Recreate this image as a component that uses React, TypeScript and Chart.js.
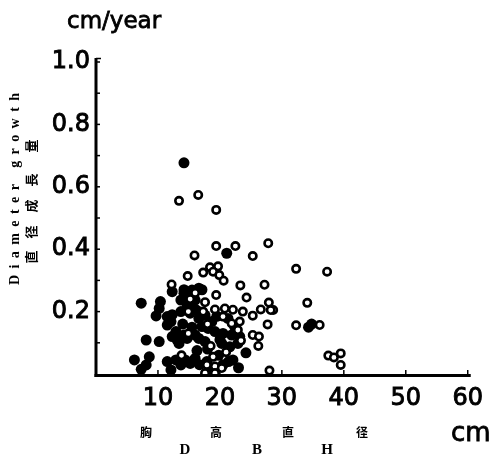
import React, { useEffect, useRef } from "react";
import { Chart, registerables } from "chart.js";

Chart.register(...registerables);

// DBH (cm) vs diameter growth (cm/year)
const openPoints = [
  { x: 13.4, y: 0.555 }, { x: 16.5, y: 0.574 }, { x: 19.4, y: 0.526 },
  { x: 19.4, y: 0.41 }, { x: 22.5, y: 0.41 }, { x: 15.9, y: 0.38 },
  { x: 25.3, y: 0.378 }, { x: 27.8, y: 0.419 }, { x: 14.8, y: 0.314 },
  { x: 17.3, y: 0.325 }, { x: 18.4, y: 0.342 }, { x: 19.7, y: 0.345 },
  { x: 18.9, y: 0.328 }, { x: 19.9, y: 0.317 }, { x: 20.6, y: 0.299 },
  { x: 12.2, y: 0.287 }, { x: 23.3, y: 0.284 }, { x: 27.2, y: 0.286 },
  { x: 32.3, y: 0.337 }, { x: 37.3, y: 0.328 }, { x: 19.4, y: 0.253 },
  { x: 24.3, y: 0.245 }, { x: 27.9, y: 0.229 }, { x: 28.6, y: 0.205 },
  { x: 34.1, y: 0.228 }, { x: 19.2, y: 0.207 }, { x: 20.8, y: 0.21 },
  { x: 22.1, y: 0.206 }, { x: 23.7, y: 0.2 }, { x: 25.3, y: 0.187 },
  { x: 26.6, y: 0.207 }, { x: 28.2, y: 0.205 }, { x: 20.5, y: 0.184 },
  { x: 21.9, y: 0.162 }, { x: 23.2, y: 0.168 }, { x: 22.9, y: 0.141 },
  { x: 27.7, y: 0.159 }, { x: 32.3, y: 0.156 }, { x: 36.1, y: 0.157 },
  { x: 25.3, y: 0.125 }, { x: 26.3, y: 0.12 }, { x: 26.2, y: 0.09 },
  { x: 23.4, y: 0.107 }, { x: 37.5, y: 0.059 }, { x: 38.4, y: 0.053 },
  { x: 39.5, y: 0.066 }, { x: 39.5, y: 0.029 }, { x: 28.0, y: 0.011 },
  { x: 15.2, y: 0.24 }, { x: 14.9, y: 0.2 }, { x: 14.9, y: 0.13 },
  { x: 17.3, y: 0.2 }, { x: 18.0, y: 0.16 }, { x: 16.0, y: 0.26 },
  { x: 17.6, y: 0.23 }, { x: 13.8, y: 0.06 }, { x: 17.9, y: 0.029 },
  { x: 19.2, y: 0.024 }, { x: 17.6, y: 0.003 }, { x: 19.2, y: 0.003 },
  { x: 20.3, y: 0.019 }, { x: 18.9, y: 0.055 }, { x: 21.0, y: 0.07 },
  { x: 18.5, y: 0.09 },
];

const filledPoints = [
  { x: 14.2, y: 0.677 }, { x: 21.1, y: 0.387 }, { x: 14.2, y: 0.27 },
  { x: 17.1, y: 0.27 }, { x: 7.3, y: 0.227 }, { x: 10.4, y: 0.232 },
  { x: 10.2, y: 0.21 }, { x: 9.7, y: 0.186 }, { x: 11.5, y: 0.184 },
  { x: 12.1, y: 0.168 }, { x: 11.5, y: 0.157 }, { x: 13.7, y: 0.237 },
  { x: 14.2, y: 0.259 }, { x: 14.7, y: 0.216 }, { x: 15.2, y: 0.195 },
  { x: 12.3, y: 0.12 }, { x: 13.1, y: 0.109 }, { x: 14.2, y: 0.125 },
  { x: 14.7, y: 0.114 }, { x: 15.2, y: 0.13 }, { x: 16.0, y: 0.125 },
  { x: 8.1, y: 0.109 }, { x: 10.2, y: 0.104 }, { x: 6.2, y: 0.045 },
  { x: 7.3, y: 0.015 }, { x: 8.6, y: 0.055 }, { x: 8.1, y: 0.029 },
  { x: 11.5, y: 0.04 }, { x: 12.1, y: 0.013 }, { x: 12.9, y: 0.045 },
  { x: 13.7, y: 0.029 }, { x: 14.4, y: 0.045 }, { x: 15.2, y: 0.034 },
  { x: 16.0, y: 0.05 }, { x: 12.3, y: 0.264 }, { x: 15.5, y: 0.269 },
  { x: 16.6, y: 0.275 }, { x: 16.0, y: 0.237 }, { x: 15.2, y: 0.221 },
  { x: 12.3, y: 0.19 }, { x: 13.7, y: 0.2 }, { x: 16.6, y: 0.178 },
  { x: 17.6, y: 0.189 }, { x: 18.7, y: 0.168 }, { x: 17.1, y: 0.152 },
  { x: 18.1, y: 0.146 }, { x: 19.2, y: 0.136 }, { x: 12.9, y: 0.136 },
  { x: 15.5, y: 0.15 }, { x: 16.6, y: 0.114 }, { x: 17.6, y: 0.104 },
  { x: 13.4, y: 0.098 }, { x: 20.5, y: 0.13 }, { x: 21.9, y: 0.125 },
  { x: 23.2, y: 0.12 }, { x: 20.3, y: 0.098 }, { x: 21.6, y: 0.087 },
  { x: 22.9, y: 0.098 }, { x: 22.1, y: 0.045 }, { x: 24.2, y: 0.068 },
  { x: 34.3, y: 0.15 }, { x: 34.8, y: 0.16 }, { x: 16.7, y: 0.03 },
  { x: 17.9, y: 0.04 }, { x: 18.5, y: 0.02 }, { x: 20.5, y: 0.03 },
  { x: 21.4, y: 0.04 }, { x: 23.0, y: 0.02 }, { x: 19.8, y: 0.06 },
  { x: 18.0, y: 0.08 }, { x: 16.3, y: 0.075 }, { x: 21.3, y: 0.178 },
  { x: 22.4, y: 0.15 }, { x: 19.5, y: 0.185 }, { x: 16.2, y: 0.205 },
  { x: 14.0, y: 0.16 }, { x: 20.0, y: 0.11 },
];

const xTickValues = [10, 20, 30, 40, 50, 60];
const yMinorTicks = [0.1, 0.2, 0.3, 0.4, 0.5, 0.6, 0.7, 0.8, 0.9, 1.0];
const yUnit = "cm/year";
const xUnit = "cm";
const yTitleEn = "Diameter growth";
const yTitleJa = ["直", "径", "成", "長", "量"];
const xTitleJa = ["胸", "高", "直", "径"];
const xTitleEn = ["D", "B", "H"];

const axisPlugin = {
  id: "axisPlugin",
  beforeDatasetsDraw(chart: any) {
    const ctx = chart.ctx;
    const xs = chart.scales.x;
    const ys = chart.scales.y;
    const x0 = xs.getPixelForValue(0);
    const y0 = ys.getPixelForValue(0);
    const yTop = ys.getPixelForValue(1.0);
    const xEnd = xs.getPixelForValue(60);
    ctx.save();
    ctx.strokeStyle = "#000";
    ctx.lineCap = "butt";
    ctx.lineWidth = 3;
    ctx.beginPath();
    ctx.moveTo(x0, yTop - 4);
    ctx.lineTo(x0, y0 + 3);
    ctx.stroke();
    ctx.beginPath();
    ctx.moveTo(x0 - 1.5, y0 + 1.5);
    ctx.lineTo(xEnd + 3, y0 + 1.5);
    ctx.stroke();
    ctx.lineWidth = 1.5;
    yMinorTicks.forEach((v) => {
      const py = ys.getPixelForValue(v);
      ctx.beginPath();
      ctx.moveTo(x0, py);
      ctx.lineTo(x0 + 4, py);
      ctx.stroke();
    });
    ctx.beginPath();
    ctx.moveTo(x0, yTop - 3.5);
    ctx.lineTo(x0 + 5, yTop - 3.5);
    ctx.stroke();
    xTickValues.forEach((v) => {
      const px = xs.getPixelForValue(v);
      ctx.beginPath();
      ctx.moveTo(px, y0);
      ctx.lineTo(px, y0 - 4);
      ctx.stroke();
    });
    ctx.restore();
  },
  afterDraw(chart: any) {
    const ctx = chart.ctx;
    ctx.save();
    ctx.fillStyle = "#000";
    ctx.strokeStyle = "#000";
    ctx.lineWidth = 0.8;
    ctx.textBaseline = "alphabetic";
    ctx.textAlign = "left";
    ctx.font = '23px "DejaVu Sans"';
    ctx.fillText(yUnit, 67, 28);
    ctx.strokeText(yUnit, 67, 28);
    ctx.font = '26px "DejaVu Sans"';
    ctx.fillText(xUnit, 451, 441);
    ctx.strokeText(xUnit, 451, 441);

    // x-axis Japanese title
    ctx.textAlign = "center";
    ctx.textBaseline = "middle";
    ctx.font = 'bold 12px "Noto Sans CJK JP"';
    const jaX = [146, 216, 288, 362];
    xTitleJa.forEach((c, i) => ctx.fillText(c, jaX[i], 432));
    ctx.font = 'bold 15px "Liberation Serif"';
    const enX = [185, 257, 327];
    xTitleEn.forEach((c, i) => ctx.fillText(c, enX[i], 450));

    // y-axis title, rotated
    ctx.save();
    ctx.translate(15, 285);
    ctx.rotate(-Math.PI / 2);
    ctx.font = 'bold 14px "Liberation Serif"';
    ctx.textAlign = "left";
    ctx.textBaseline = "middle";
    const chars = yTitleEn.split("");
    const totalW = chars.reduce((s, c) => s + ctx.measureText(c).width, 0);
    const gap = (192 - totalW) / (chars.length - 1);
    let cx = 0;
    chars.forEach((c) => {
      ctx.fillText(c, cx, 0);
      cx += ctx.measureText(c).width + gap;
    });
    ctx.restore();

    ctx.save();
    ctx.font = 'bold 13px "Noto Sans CJK JP"';
    ctx.textAlign = "center";
    ctx.textBaseline = "middle";
    const jaY = [257, 232, 206, 180, 146];
    yTitleJa.forEach((c, i) => {
      ctx.save();
      ctx.translate(31, jaY[i]);
      ctx.rotate(-Math.PI / 2);
      ctx.fillText(c, 0, 0);
      ctx.restore();
    });
    ctx.restore();
    ctx.restore();
  },
};

export default function App() {
  const ref = useRef<HTMLCanvasElement | null>(null);
  useEffect(() => {
    if (!ref.current) return;
    const chart = new Chart(ref.current, {
      type: "scatter",
      data: {
        datasets: [
          {
            label: "open",
            data: openPoints,
            pointRadius: 3.7,
            borderWidth: 2.6,
            borderColor: "#000",
            backgroundColor: "#fff",
            order: 0,
          },
          {
            label: "filled",
            data: filledPoints,
            pointRadius: 5.5,
            borderWidth: 0,
            borderColor: "#000",
            backgroundColor: "#000",
            order: 1,
          },
        ],
      },
      options: {
        animation: false,
        responsive: false,
        devicePixelRatio: 1,
        layout: { padding: { top: 62, right: 19, left: 0, bottom: 0 } },
        plugins: { legend: { display: false }, tooltip: { enabled: false } },
        scales: {
          x: {
            type: "linear",
            min: 0,
            max: 60,
            afterFit(s: any) {
              s.height = 82;
            },
            ticks: {
              stepSize: 10,
              autoSkip: false,
              maxRotation: 0,
              padding: 10,
              color: "#000",
              textStrokeColor: "#000",
              textStrokeWidth: 0.9,
              font: { family: "DejaVu Sans", size: 24 },
              callback: (v: any) => (Number(v) === 0 ? "" : String(v)),
            },
            grid: { display: false, drawTicks: false },
            border: { display: false },
          },
          y: {
            type: "linear",
            min: 0,
            max: 1,
            afterFit(s: any) {
              s.width = 96;
            },
            ticks: {
              stepSize: 0.2,
              padding: 6,
              color: "#000",
              textStrokeColor: "#000",
              textStrokeWidth: 0.9,
              font: { family: "DejaVu Sans", size: 24 },
              callback: (v: any) => (Number(v) === 0 ? "" : Number(v).toFixed(1)),
            },
            grid: { display: false, drawTicks: false },
            border: { display: false },
          },
        },
      },
      plugins: [axisPlugin],
    });
    return () => chart.destroy();
  }, []);
  return (
    <div style={{ position: "absolute", left: 0, top: 0, width: 493, height: 456, background: "#fff" }}>
      <canvas ref={ref} width={493} height={456} style={{ width: 493, height: 456, display: "block" }} />
    </div>
  );
}
